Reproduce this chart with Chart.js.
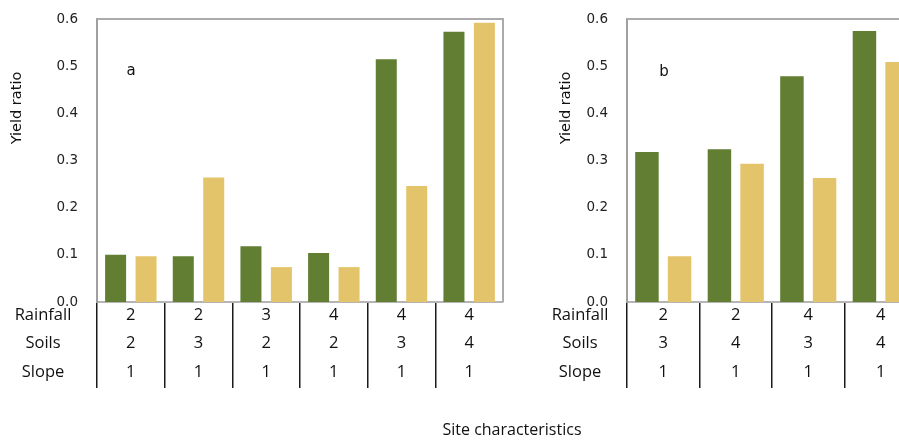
<!DOCTYPE html>
<html><head><meta charset="utf-8">
<script src="https://cdn.jsdelivr.net/npm/chart.js@4"></script>
<style>
html,body{margin:0;padding:0;background:#fff;overflow:hidden;width:899px;height:441px;position:relative;}
#wa{position:absolute;left:0;top:0;width:540px;height:441px;}
#wb{position:absolute;left:540px;top:0;width:420px;height:441px;}
#xt{position:absolute;left:412px;top:418px;width:200px;text-align:center;font:16px "Open Sans",sans-serif;color:#111;}
</style></head><body>
<div id="wa"><canvas id="ca" width="540" height="441"></canvas></div>
<div id="wb"><canvas id="cb" width="420" height="441"></canvas></div>
<div id="xt">Site characteristics</div>
<script>
// ---- data ----
const rowNames = ['Rainfall', 'Soils', 'Slope'];
const yTickValues = [0, 0.1, 0.2, 0.3, 0.4, 0.5, 0.6];
const yTitle = 'Yield ratio';

const rainfallA = ['2', '2', '3', '4', '4', '4'];
const soilsA    = ['2', '3', '2', '2', '3', '4'];
const slopeA    = ['1', '1', '1', '1', '1', '1'];
const greenA    = [0.100, 0.097, 0.118, 0.104, 0.515, 0.573];
const yellowA   = [0.097, 0.264, 0.074, 0.074, 0.246, 0.592];

const rainfallB = ['2', '2', '4', '4'];
const soilsB    = ['3', '4', '3', '4'];
const slopeB    = ['1', '1', '1', '1'];
const greenB    = [0.318, 0.324, 0.479, 0.575];
const yellowB   = [0.097, 0.293, 0.263, 0.509];

// ---- styling ----
const GREEN = '#617E32', YELLOW = '#E4C46A';
const TICK_LEN = 86, LINE_H = 28.5, LBL_PAD = -87.25;
const TABLE_FONT = 16.5;

const annot = {
  id: 'annot',
  afterDraw(chart, args, o) {
    const {ctx, chartArea: ca, scales: {x}} = chart;
    ctx.save();
    ctx.strokeStyle = '#ababab'; ctx.lineWidth = 2;
    ctx.beginPath(); ctx.moveTo(ca.left, ca.top); ctx.lineTo(ca.right, ca.top); ctx.lineTo(ca.right, ca.bottom); ctx.stroke();
    ctx.fillStyle = '#111'; ctx.textAlign = 'center'; ctx.textBaseline = 'middle';
    ctx.font = '15px "DejaVu Sans"';
    ctx.fillText(o.letter, ca.left + o.lx, ca.top + o.ly);
    ctx.font = TABLE_FONT + 'px "Open Sans"';
    const y0 = x.top + TICK_LEN + LBL_PAD + LINE_H / 2;
    rowNames.forEach((r, i) => ctx.fillText(r, o.rowX, y0 + i * LINE_H));
    ctx.translate(o.tx, o.ty); ctx.rotate(-Math.PI / 2);
    ctx.font = '14.5px "DejaVu Sans"';
    ctx.fillText(yTitle, 0, 0);
    ctx.restore();
  }
};

function make(id, rain, soil, slope, g, yv, cfg) {
  const labels = rain.map((r, i) => [r, soil[i], slope[i]]);
  return new Chart(document.getElementById(id), {
    type: 'bar',
    data: {
      labels,
      datasets: [
        {label: 'Series 1', data: g, backgroundColor: GREEN, borderWidth: 0},
        {label: 'Series 2', data: yv, backgroundColor: YELLOW, borderWidth: 0}
      ]
    },
    options: {
      responsive: false, animation: false,
      categoryPercentage: 0.9, barPercentage: cfg.bp,
      layout: {padding: {top: cfg.top, right: cfg.right, bottom: 0, left: 0}},
      plugins: {legend: {display: false}, tooltip: {enabled: false},
        annot: {letter: cfg.letter, lx: cfg.lx, ly: cfg.ly, rowX: cfg.rowX, tx: cfg.tx, ty: cfg.ty}},
      scales: {
        x: {
          offset: true,
          grid: {offset: true, drawOnChartArea: false, drawTicks: true, tickLength: TICK_LEN,
                 color: c => c.type === 'tick' ? '#1a1a1a' : 'rgba(0,0,0,0)', lineWidth: 1.5},
          border: {display: true, color: '#b5b5b5', width: 2},
          ticks: {padding: LBL_PAD, autoSkip: false, maxRotation: 0, color: '#111',
                  font: {family: 'Open Sans', size: TABLE_FONT, lineHeight: LINE_H / TABLE_FONT}},
          afterFit: s => { s.height = 139; }
        },
        y: {
          min: 0, max: 0.6,
          afterBuildTicks: s => { s.ticks = yTickValues.map(v => ({value: v})); },
          ticks: {callback: v => Number(v).toFixed(1), color: '#222', padding: 11,
                  font: {family: 'DejaVu Sans', size: 13.5}},
          grid: {display: false},
          border: {display: true, color: '#a0a0a0', width: 2, dash: [1, 1]},
          afterFit: s => { s.width = cfg.yw; }
        }
      }
    },
    plugins: [annot]
  });
}

make('ca', rainfallA, soilsA, slopeA, greenA, yellowA,
  {bp: 0.69, top: 15, right: 37, yw: 97, letter: 'a', lx: 34, ly: 52, rowX: 43, tx: 17, ty: 108});
make('cb', rainfallB, soilsB, slopeB, greenB, yellowB,
  {bp: 0.72, top: 11, right: 43, yw: 87, letter: 'b', lx: 37, ly: 53, rowX: 40, tx: 26, ty: 108});
</script>
</body></html>
